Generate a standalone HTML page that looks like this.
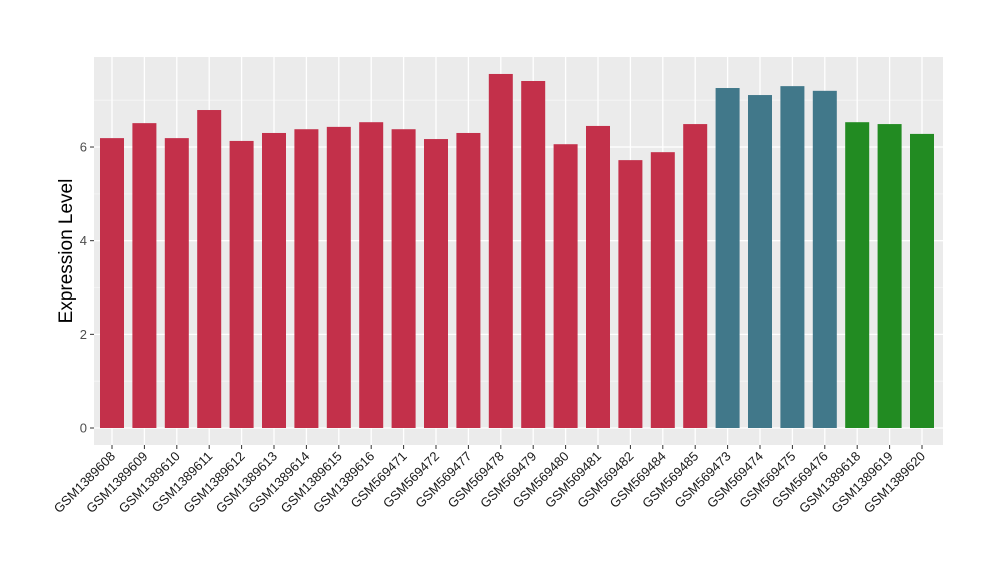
<!DOCTYPE html>
<html><head><meta charset="utf-8"><style>
body{margin:0;background:#fff;}
svg{font-family:"Liberation Sans",Arial,sans-serif;}
</style></head><body>
<svg id="chart" width="1000" height="580" xmlns="http://www.w3.org/2000/svg"></svg>
<script>
const categories=["GSM1389608","GSM1389609","GSM1389610","GSM1389611","GSM1389612","GSM1389613","GSM1389614","GSM1389615","GSM1389616","GSM569471","GSM569472","GSM569477","GSM569478","GSM569479","GSM569480","GSM569481","GSM569482","GSM569484","GSM569485","GSM569473","GSM569474","GSM569475","GSM569476","GSM1389618","GSM1389619","GSM1389620"];
const values=[6.19,6.51,6.19,6.79,6.13,6.30,6.38,6.43,6.53,6.38,6.17,6.30,7.56,7.41,6.06,6.45,5.72,5.89,6.49,7.26,7.11,7.30,7.20,6.53,6.49,6.28];
const groups=[0,0,0,0,0,0,0,0,0,0,0,0,0,0,0,0,0,0,0,1,1,1,1,2,2,2];
const groupColors=["#C3304A","#41788A","#228B22"];
const yTicks=[0,2,4,6];
const yMinor=[1,3,5,7];

const svg=document.getElementById('chart');
const NS="http://www.w3.org/2000/svg";
const px0=94,px1=943,py0=57,py1=445;
const y=v=>428-v*46.83;
const x0=112,step=(922-112)/(categories.length-1);
const x=i=>x0+i*step;
const bw=24;
function mk(t,a,p){const e=document.createElementNS(NS,t);for(const k in a)e.setAttribute(k,a[k]);(p||svg).appendChild(e);return e;}
const bg=mk('rect',{x:px0,y:py0,width:px1-px0,height:py1-py0,fill:'#EBEBEB'});


yMinor.forEach(v=>{const l=mk('line',{x1:px0,x2:px1,y1:y(v),y2:y(v),stroke:'#F5F5F5','stroke-width':0.8});

});
yTicks.forEach(v=>{const l=mk('line',{x1:px0,x2:px1,y1:y(v),y2:y(v),stroke:'#fff','stroke-width':1.3});


const tk=mk('line',{x1:px0-4,x2:px0,y1:y(v),y2:y(v),stroke:'#333','stroke-width':1});


const t=mk('text',{x:px0-7,y:y(v)+4.5,'text-anchor':'end','font-size':13,fill:'#4D4D4D'});t.textContent=v;

});
categories.forEach((c,i)=>{const l=mk('line',{x1:x(i),x2:x(i),y1:py0,y2:py1,stroke:'#fff','stroke-width':1.3});

});
categories.forEach((c,i)=>{
const b=mk('rect',{x:x(i)-bw/2,y:y(values[i]),width:bw,height:y(0)-y(values[i]),fill:groupColors[groups[i]]});


const tk=mk('line',{x1:x(i),x2:x(i),y1:py1,y2:py1+4,stroke:'#333','stroke-width':1});


const t=mk('text',{x:x(i)+4,y:py1+12,'text-anchor':'end','font-size':13,fill:'#1a1a1a',transform:`rotate(-45 ${x(i)+4} ${py1+12})`});t.textContent=c;


});
const yt=mk('text',{x:72,y:(py0+py1)/2,'text-anchor':'middle','font-size':19,fill:'#000',transform:`rotate(-90 72 ${(py0+py1)/2})`});yt.textContent='Expression Level';


</script>
</body></html>
